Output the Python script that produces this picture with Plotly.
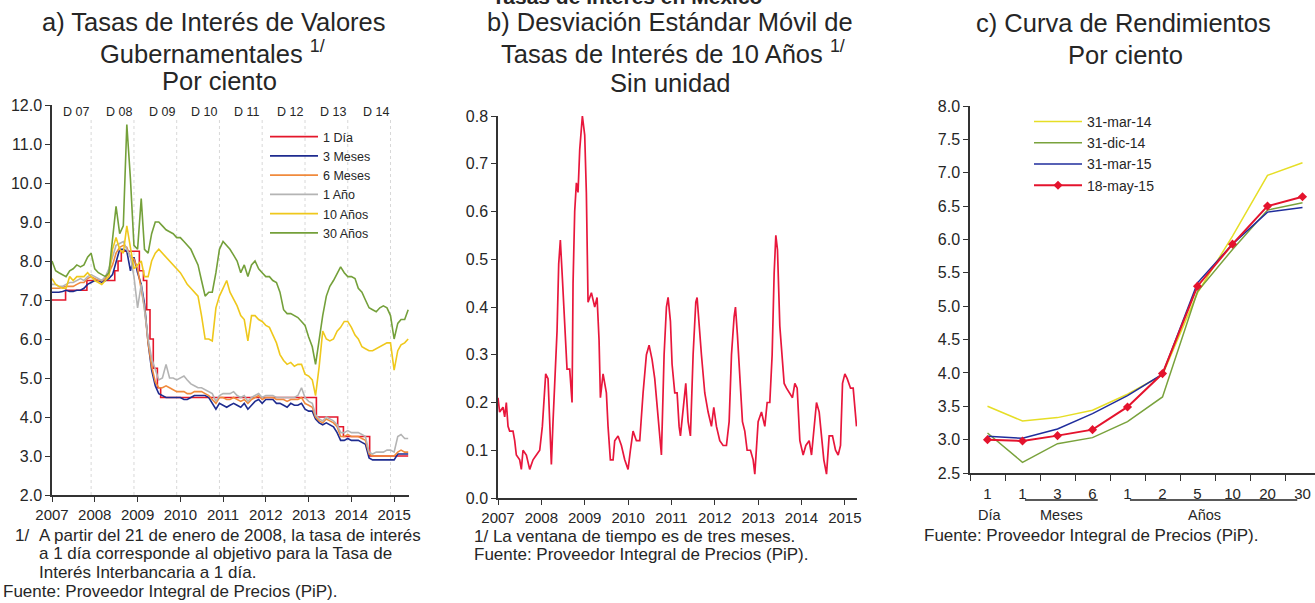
import plotly.graph_objects as go
import pandas as pd

W, H = 1315, 603
FONT = "Liberation Sans, Arial, sans-serif"
TXT = "#262626"
AX = "#333333"


def fx(p):
    return p / W


def fy(p):
    return 1 - p / H


# ---------------- Panel a: government bond rates (monthly, Jan-2007 .. May-2015) ----------------
month_start = "2007-01-01"
n_months = 101

rate_3m = [7.20, 7.20, 7.20, 7.22, 7.25, 7.22, 7.22, 7.25, 7.25, 7.30, 7.40, 7.45,
           7.50, 7.50, 7.45, 7.50, 7.55, 7.65, 8.00, 8.30, 8.30, 8.25, 7.75, 8.10,
           7.70, 7.40, 6.90, 5.90, 5.20, 4.80, 4.60, 4.55, 4.50, 4.50, 4.50, 4.50,
           4.50, 4.45, 4.45, 4.50, 4.55, 4.55, 4.55, 4.55, 4.50, 4.35, 4.20, 4.35,
           4.30, 4.25, 4.30, 4.35, 4.30, 4.25, 4.35, 4.20, 4.30, 4.40, 4.45, 4.35,
           4.45, 4.45, 4.45, 4.35, 4.35, 4.30, 4.25, 4.35, 4.30, 4.30, 4.35, 4.20,
           4.15, 4.15, 3.95, 3.85, 3.80, 3.85, 3.80, 3.75, 3.60, 3.40, 3.40, 3.45,
           3.40, 3.40, 3.40, 3.35, 3.30, 2.95, 2.90, 2.90, 2.90, 2.90, 2.90, 2.90,
           2.90, 3.05, 3.05, 3.05, 3.05]
rate_6m = [7.30, 7.30, 7.30, 7.32, 7.35, 7.35, 7.35, 7.40, 7.45, 7.45, 7.55, 7.60,
           7.55, 7.50, 7.50, 7.55, 7.70, 7.90, 8.20, 8.35, 8.40, 8.35, 8.10, 8.05,
           7.80, 7.30, 6.80, 5.90, 5.30, 4.90, 4.75, 4.75, 4.80, 4.75, 4.70, 4.65,
           4.65, 4.65, 4.60, 4.60, 4.65, 4.65, 4.65, 4.60, 4.55, 4.45, 4.35, 4.50,
           4.50, 4.45, 4.45, 4.50, 4.45, 4.40, 4.45, 4.35, 4.45, 4.50, 4.55, 4.45,
           4.50, 4.50, 4.50, 4.45, 4.45, 4.45, 4.40, 4.45, 4.45, 4.45, 4.50, 4.35,
           4.30, 4.25, 4.00, 3.90, 3.85, 3.95, 3.90, 3.85, 3.75, 3.50, 3.50, 3.55,
           3.50, 3.50, 3.50, 3.45, 3.40, 3.05, 3.00, 3.00, 3.00, 3.00, 3.00, 3.00,
           3.00, 3.10, 3.15, 3.10, 3.10]
rate_1y = [7.40, 7.40, 7.35, 7.35, 7.40, 7.45, 7.45, 7.50, 7.55, 7.50, 7.60, 7.65,
           7.60, 7.55, 7.50, 7.60, 7.80, 8.10, 8.40, 8.45, 8.50, 8.30, 8.10, 7.60,
           6.80, 7.40, 6.70, 6.00, 5.50, 5.20, 4.95, 5.00, 5.35, 5.00, 5.00, 4.95,
           5.00, 5.05, 4.95, 4.85, 4.80, 4.75, 4.75, 4.70, 4.65, 4.60, 4.40, 4.55,
           4.60, 4.60, 4.60, 4.65, 4.55, 4.50, 4.55, 4.40, 4.50, 4.55, 4.60, 4.50,
           4.55, 4.55, 4.55, 4.50, 4.50, 4.50, 4.50, 4.50, 4.50, 4.55, 4.75, 4.50,
           4.40, 4.35, 4.05, 3.95, 3.90, 4.00, 3.95, 3.90, 3.80, 3.60, 3.60, 3.65,
           3.60, 3.60, 3.60, 3.55, 3.50, 3.10, 3.05, 3.10, 3.10, 3.10, 3.15, 3.15,
           3.10, 3.50, 3.55, 3.45, 3.45]
rate_10y = [7.55, 7.40, 7.35, 7.30, 7.30, 7.60, 7.50, 7.60, 7.60, 7.60, 7.70, 7.60,
            7.50, 7.45, 7.40, 7.50, 7.60, 8.30, 8.60, 8.30, 8.20, 8.90, 8.30, 7.80,
            7.90, 8.00, 7.60, 7.60, 8.00, 8.20, 8.30, 8.20, 8.10, 8.00, 7.90, 7.80,
            7.70, 7.55, 7.40, 7.30, 7.20, 7.10, 6.60, 6.00, 6.00, 5.95, 6.80, 7.10,
            7.30, 7.50, 7.20, 7.00, 6.85, 6.60, 6.50, 5.95, 6.60, 6.60, 6.50, 6.45,
            6.35, 6.30, 6.10, 5.90, 5.60, 5.45, 5.35, 5.40, 5.30, 5.35, 5.35, 5.10,
            5.05, 4.95, 4.55, 5.30, 6.20, 6.00, 5.95, 6.00, 6.20, 6.30, 6.45, 6.45,
            6.30, 6.10, 6.00, 5.80, 5.75, 5.70, 5.70, 5.75, 5.80, 5.85, 5.90, 5.90,
            5.20, 5.70, 5.85, 5.90, 6.00]
rate_30y = [8.00, 7.75, 7.70, 7.65, 7.60, 7.75, 7.80, 7.90, 7.85, 7.90, 8.10, 8.20,
            7.80, 7.70, 7.65, 7.60, 7.70, 8.60, 9.40, 8.70, 8.90, 11.50, 10.10, 8.40,
            8.30, 9.60, 8.30, 8.20, 8.70, 9.00, 9.00, 8.90, 8.80, 8.75, 8.70, 8.60,
            8.60, 8.50, 8.40, 8.30, 8.10, 7.90, 7.50, 7.10, 7.20, 7.20, 7.70, 8.30,
            8.50, 8.40, 8.30, 8.15, 8.00, 7.70, 7.90, 7.60, 7.90, 8.00, 7.80, 7.70,
            7.60, 7.60, 7.50, 7.45, 7.20, 6.75, 6.65, 6.65, 6.60, 6.55, 6.45, 6.35,
            6.05, 5.80, 5.35, 6.00, 6.60, 7.10, 7.35, 7.50, 7.70, 7.85, 7.70, 7.60,
            7.60, 7.55, 7.30, 7.20, 7.00, 6.80, 6.75, 6.70, 6.80, 6.85, 6.80, 6.60,
            6.00, 6.40, 6.50, 6.50, 6.75]

# 1-day target rate (step changes)
day1_dates = ["2007-01-01", "2007-04-27", "2007-10-26", "2008-06-20", "2008-07-18",
              "2008-08-15", "2009-01-16", "2009-02-20", "2009-03-20", "2009-04-17",
              "2009-05-15", "2009-06-19", "2009-07-17", "2013-03-08", "2013-09-06",
              "2013-10-25", "2014-06-06", "2015-05-01"]
day1_rate = [7.00, 7.25, 7.50, 7.75, 8.00, 8.25, 7.75, 7.50, 6.75, 6.00,
             5.25, 4.75, 4.50, 4.00, 3.75, 3.50, 3.00, 3.00]

dec_dates = ["2007-12-01", "2008-12-01", "2009-12-01", "2010-12-01",
             "2011-12-01", "2012-12-01", "2013-12-01", "2014-12-01"]
dec_labels = ["D 07", "D 08", "D 09", "D 10", "D 11", "D 12", "D 13", "D 14"]

# ---------------- Panel b: rolling std dev of 10y rate ----------------
sd_years = [2007.000, 2007.038, 2007.115, 2007.154, 2007.192, 2007.231, 2007.269, 2007.346, 2007.385,
            2007.423, 2007.500, 2007.538, 2007.577, 2007.654, 2007.731, 2007.808, 2007.885, 2007.962,
            2008.023, 2008.062, 2008.100, 2008.154, 2008.192, 2008.231, 2008.269, 2008.308, 2008.362,
            2008.400, 2008.438, 2008.485, 2008.538, 2008.592, 2008.654, 2008.708, 2008.731, 2008.769,
            2008.808, 2008.846, 2008.885, 2008.946,
            2009.000, 2009.038, 2009.077, 2009.154, 2009.231, 2009.285, 2009.331, 2009.362, 2009.423,
            2009.500, 2009.538, 2009.592, 2009.654, 2009.692, 2009.769, 2009.846, 2009.923,
            2010.000, 2010.054, 2010.115, 2010.192, 2010.269, 2010.346, 2010.423, 2010.485, 2010.554,
            2010.615, 2010.692, 2010.769, 2010.831, 2010.885, 2010.923, 2010.977,
            2011.015, 2011.077, 2011.131, 2011.177, 2011.208, 2011.269, 2011.331, 2011.385, 2011.438,
            2011.500, 2011.562, 2011.592, 2011.638, 2011.692, 2011.769, 2011.846, 2011.923, 2011.977,
            2012.038, 2012.115, 2012.192, 2012.269, 2012.331, 2012.385, 2012.446, 2012.477, 2012.523,
            2012.577, 2012.638, 2012.692, 2012.746, 2012.823, 2012.885, 2012.923,
            2013.000, 2013.077, 2013.154, 2013.208, 2013.269, 2013.323, 2013.369, 2013.408, 2013.446,
            2013.500, 2013.554, 2013.600, 2013.654, 2013.731, 2013.792, 2013.846, 2013.900, 2013.962,
            2014.038, 2014.100, 2014.177, 2014.231, 2014.285, 2014.346, 2014.408, 2014.462, 2014.515,
            2014.577, 2014.638, 2014.715, 2014.785, 2014.846, 2014.900, 2014.946,
            2015.000, 2015.054, 2015.131, 2015.192, 2015.231, 2015.269]
sd_vals = [0.21, 0.18, 0.19, 0.17, 0.20, 0.15, 0.14, 0.14, 0.12, 0.09, 0.08, 0.06, 0.10, 0.09, 0.06, 0.08, 0.09, 0.10,
           0.15, 0.22, 0.26, 0.25, 0.15, 0.07, 0.16, 0.24, 0.35, 0.49, 0.54, 0.46, 0.37, 0.27, 0.27, 0.20, 0.45, 0.60,
           0.66, 0.64, 0.73, 0.80,
           0.76, 0.64, 0.41, 0.43, 0.40, 0.42, 0.33, 0.21, 0.26, 0.22, 0.15, 0.08, 0.08, 0.12, 0.13, 0.11, 0.08,
           0.06, 0.10, 0.14, 0.12, 0.12, 0.22, 0.30, 0.32, 0.29, 0.25, 0.17, 0.09, 0.30, 0.40, 0.42, 0.37,
           0.28, 0.22, 0.22, 0.15, 0.13, 0.19, 0.24, 0.16, 0.13, 0.30, 0.41, 0.42, 0.36, 0.30, 0.22, 0.18, 0.15, 0.19,
           0.15, 0.12, 0.11, 0.11, 0.16, 0.30, 0.38, 0.40, 0.34, 0.25, 0.16, 0.14, 0.10, 0.10, 0.08, 0.05,
           0.16, 0.18, 0.15, 0.20, 0.20, 0.30, 0.47, 0.55, 0.52, 0.36, 0.30, 0.24, 0.23, 0.22, 0.21, 0.24, 0.23, 0.12,
           0.09, 0.11, 0.12, 0.09, 0.14, 0.20, 0.18, 0.12, 0.08, 0.05, 0.13, 0.13, 0.10, 0.09, 0.11, 0.24,
           0.26, 0.25, 0.23, 0.23, 0.18, 0.15]
year_ticks = [2007, 2008, 2009, 2010, 2011, 2012, 2013, 2014, 2015]

# ---------------- Panel c: yield curves ----------------
tenor_labels = ["1", "1", "3", "6", "1", "2", "5", "10", "20", "30"]
tenor_pos = list(range(len(tenor_labels)))
curve_mar14 = [3.50, 3.28, 3.33, 3.44, 3.68, 3.97, 5.20, 6.05, 6.96, 7.15]
curve_dic14 = [3.10, 2.66, 2.94, 3.03, 3.27, 3.64, 5.22, 5.85, 6.44, 6.55]
curve_mar15 = [3.05, 3.02, 3.16, 3.39, 3.66, 3.98, 5.35, 5.93, 6.41, 6.48]
curve_may15 = [3.00, 2.98, 3.06, 3.15, 3.49, 3.99, 5.30, 5.93, 6.50, 6.64]
group_names = ["Día", "Meses", "Años"]
group_first = [0, 1, 4]
group_last = [0, 3, 9]

months = pd.date_range(month_start, periods=n_months, freq="MS")

fig = go.Figure()

# Panel a traces
series_a = [
    ("1 Día", day1_dates, day1_rate, "#e4172b", "hv"),
    ("3 Meses", months, rate_3m, "#1e2b8f", "linear"),
    ("6 Meses", months, rate_6m, "#f08a3c", "linear"),
    ("1 Año", months, rate_1y, "#b4b4b4", "linear"),
    ("10 Años", months, rate_10y, "#efc81c", "linear"),
    ("30 Años", months, rate_30y, "#74a03a", "linear"),
]
for name, xs, ys, col, shape in series_a:
    fig.add_trace(go.Scatter(x=xs, y=ys, name=name, mode="lines",
                             line=dict(color=col, width=1.6, shape=shape),
                             xaxis="x", yaxis="y", legend="legend"))

# Panel b trace
fig.add_trace(go.Scatter(x=sd_years, y=sd_vals, mode="lines", showlegend=False,
                         line=dict(color="#e8173c", width=1.7), xaxis="x2", yaxis="y2"))

# Panel c traces
series_c = [
    ("31-mar-14", curve_mar14, "#e6de25", None),
    ("31-dic-14", curve_dic14, "#79a23c", None),
    ("31-mar-15", curve_mar15, "#1f2d9c", None),
    ("18-may-15", curve_may15, "#e4132d", "diamond"),
]
for name, ys, col, sym in series_c:
    fig.add_trace(go.Scatter(
        x=tenor_pos, y=ys, name=name,
        mode="lines+markers" if sym else "lines",
        line=dict(color=col, width=2 if sym else 1.5),
        marker=dict(symbol=sym, size=7, color=col) if sym else None,
        xaxis="x3", yaxis="y3", legend="legend2"))

shapes = []
annotations = []

# December reference lines and labels (panel a)
for d, lab in zip(dec_dates, dec_labels):
    shapes.append(dict(type="line", xref="x", yref="y domain", x0=d, x1=d, y0=0, y1=0.965,
                       line=dict(color="#d8d8d8", width=1, dash="dot"), layer="below"))
    annotations.append(dict(text=lab, x=d, xref="x", y=fy(112), yref="paper",
                            xanchor="right", yanchor="middle", showarrow=False,
                            font=dict(size=12.5, color=TXT, family=FONT)))

# Group underlines and labels (panel c)
for gname, a, b in zip(group_names, group_first, group_last):
    if b > a:
        x0 = a + 0.07
        x1 = b - 0.15 if b == tenor_pos[-1] else b + 0.15
        shapes.append(dict(type="line", xref="x3", yref="paper", x0=x0, x1=x1,
                           y0=fy(500), y1=fy(500), line=dict(color="#222222", width=1.3)))
        xm = (x0 + x1) / 2 - (0.25 if b == tenor_pos[-1] else 0)
    else:
        xm = a + 0.07
    annotations.append(dict(text=gname, x=xm, xref="x3", y=fy(515), yref="paper",
                            xanchor="center", yanchor="middle", showarrow=False,
                            font=dict(size=14.5, color=TXT, family=FONT)))


def add_text(txt, x, y, size, anchor="center", bold=False):
    annotations.append(dict(text=f"<b>{txt}</b>" if bold else txt, x=fx(x), y=fy(y),
                            xref="paper", yref="paper", xanchor=anchor, yanchor="middle",
                            showarrow=False, font=dict(size=size, color=TXT, family=FONT)))


# Main title (cut by the top edge, as in the original)
annotations.append(dict(text="<b>Tasas de Interés en México</b>", x=fx(627), y=fy(10),
                        xref="paper", yref="paper", xanchor="center", yanchor="bottom",
                        showarrow=False, font=dict(size=21, color=TXT, family=FONT)))

# Panel titles
add_text("a) Tasas de Interés de Valores", 214, 22, 25.5)
add_text("Gubernamentales <sup>1/</sup>", 212, 52, 25.5)
add_text("Por ciento", 219, 81, 25.5)
add_text("b) Desviación Estándar Móvil de", 670, 22, 25.5)
add_text("Tasas de Interés de 10 Años <sup>1/</sup>", 673, 52, 25.5)
add_text("Sin unidad", 670, 83, 25.5)
add_text("c) Curva de Rendimientos", 1123, 23, 25.5)
add_text("Por ciento", 1125, 55, 25.5)

# Footnotes
add_text("1/", 13, 535, 17, "left")
add_text("A partir del 21 de enero de 2008, la tasa de interés", 37, 535, 17, "left")
add_text("a 1 día corresponde al objetivo para la Tasa de", 37, 553, 17, "left")
add_text("Interés Interbancaria a 1 día.", 37, 572, 17, "left")
add_text("Fuente: Proveedor Integral de Precios (PiP).", 1, 591, 17, "left")
add_text("1/ La ventana de tiempo es de tres meses.", 472, 536, 17, "left")
add_text("Fuente: Proveedor Integral de Precios (PiP).", 472, 554, 17, "left")
add_text("Fuente: Proveedor Integral de Precios (PiP).", 922, 535, 17, "left")

axis_common = dict(showline=True, linecolor=AX, linewidth=1.5, ticks="outside",
                   tickcolor=AX, ticklen=5, tickwidth=1.2, showgrid=False, zeroline=False,
                   automargin=False, tickfont=dict(size=15, color=TXT, family=FONT))
yfont = dict(size=16, color=TXT, family=FONT)

fig.update_layout(
    width=W, height=H, margin=dict(l=0, r=0, t=0, b=0, autoexpand=False),
    paper_bgcolor="white", plot_bgcolor="white",
    font=dict(family=FONT, color=TXT),
    showlegend=True,
    xaxis=dict(axis_common, domain=[fx(52), fx(409)], type="date",
               range=["2007-01-01", "2015-05-08"], tick0="2007-01-01", dtick="M12",
               tickformat="%Y", anchor="y"),
    yaxis=dict(axis_common, domain=[fy(495), fy(105)], range=[2, 12], dtick=1,
               tickformat=".1f", anchor="x", tickfont=yfont),
    xaxis2=dict(axis_common, domain=[fx(498), fx(857)], range=[2007, 2015.28],
                tickmode="array", tickvals=year_ticks, ticktext=[str(v) for v in year_ticks],
                anchor="y2"),
    yaxis2=dict(axis_common, domain=[fy(498), fy(116)], range=[0, 0.8], dtick=0.1,
                tickformat=".1f", anchor="x2", tickfont=yfont),
    xaxis3=dict(axis_common, domain=[fx(970), 1.0], range=[-0.5, 9.357],
                tickmode="array", tickvals=tenor_pos, ticktext=tenor_labels,
                tickcolor="rgba(0,0,0,0)", ticklen=6,
                minor=dict(ticks="outside", tickmode="linear", tick0=-0.5, dtick=1,
                           ticklen=6, tickcolor=AX, tickwidth=1.2),
                anchor="y3"),
    yaxis3=dict(axis_common, domain=[fy(473), fy(106)], range=[2.5, 8.0], dtick=0.5,
                tickformat=".1f", anchor="x3", tickfont=yfont),
    legend=dict(x=fx(265), y=fy(122), xanchor="left", yanchor="top",
                bgcolor="rgba(0,0,0,0)", font=dict(size=12.5, color=TXT, family=FONT),
                tracegroupgap=0, itemwidth=48),
    legend2=dict(x=fx(1029), y=fy(106), xanchor="left", yanchor="top",
                 bgcolor="rgba(0,0,0,0)", font=dict(size=14, color=TXT, family=FONT),
                 tracegroupgap=0, itemwidth=48),
    shapes=shapes, annotations=annotations,
)

fig.write_html("out.html", config={"displayModeBar": False},
               post_script="document.body.style.margin='0';document.body.style.padding='0';")
